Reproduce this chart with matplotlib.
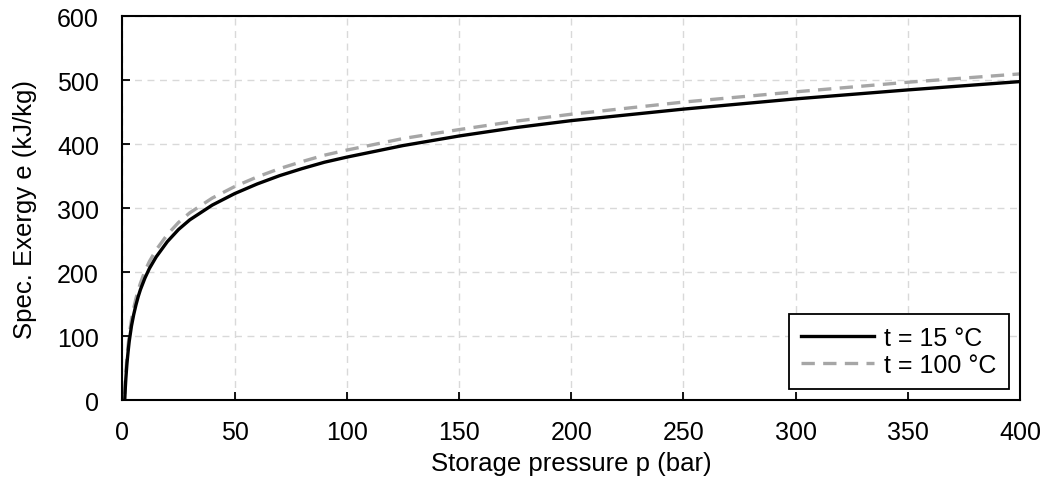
import matplotlib
matplotlib.use("Agg")
import matplotlib.pyplot as plt

plt.rcParams['font.family'] = ['Liberation Sans', 'DejaVu Sans']

pressure = [1, 1.25, 1.5, 2, 2.5, 3, 4, 5, 6, 7, 8, 10, 12, 15, 20, 25, 30, 40, 50, 60, 70, 80, 90,
            100, 125, 150, 175, 200, 250, 300, 350, 400]
exergy_15 = [0, 19, 34, 58, 76, 92, 116, 134, 149, 162, 173, 191, 206, 224, 248, 267, 282, 305, 323,
             338, 351, 362, 372, 380, 398, 413, 426, 437, 455, 471, 485, 498]
exergy_100 = [10, 29, 44, 68, 86, 102, 126, 144, 159, 172, 183, 202, 217, 235, 259, 278, 293, 316, 334,
              349, 362, 373, 383, 391, 409, 423, 436, 447, 466, 482, 497, 510]
labels = ["t = 15 °C", "t = 100 °C"]

fig = plt.figure(figsize=(10.46, 4.81), dpi=100)
ax = fig.add_axes([0.1171, 0.1657, 0.8580, 0.7983])

ax.plot(pressure, exergy_15, color='black', lw=2.4, label=labels[0], zorder=3)
ax.plot(pressure, exergy_100, color='#a6a6a6', lw=2.4, ls=(0, (4, 2.5)), label=labels[1], zorder=2)

ax.set_xlim(0, 400)
ax.set_ylim(0, 600)
ax.set_xticks(range(0, 401, 50))
ax.set_yticks(range(0, 601, 100))
ax.grid(True, color='#d9d9d9', ls=(0, (5, 4)), lw=1)
ax.set_axisbelow(True)
ax.tick_params(direction='in', length=6, width=1.3, labelsize=18)
ax.tick_params(axis='x', pad=14)
ax.tick_params(axis='y', pad=17)
for s in ax.spines.values():
    s.set_linewidth(1.5)

ax.set_xlabel("Storage pressure p (bar)", fontsize=18.5, labelpad=5)
ax.set_ylabel("Spec. Exergy e (kJ/kg)", fontsize=18.5, labelpad=14)

leg = ax.legend(loc='lower right', fontsize=18, handlelength=2.9, handletextpad=0.4,
                fancybox=False, framealpha=1, borderaxespad=0.45, borderpad=0.5, labelspacing=0.1)
leg.get_frame().set_edgecolor('black')
leg.get_frame().set_linewidth(1.3)

fig.savefig("out.png", dpi=100)
